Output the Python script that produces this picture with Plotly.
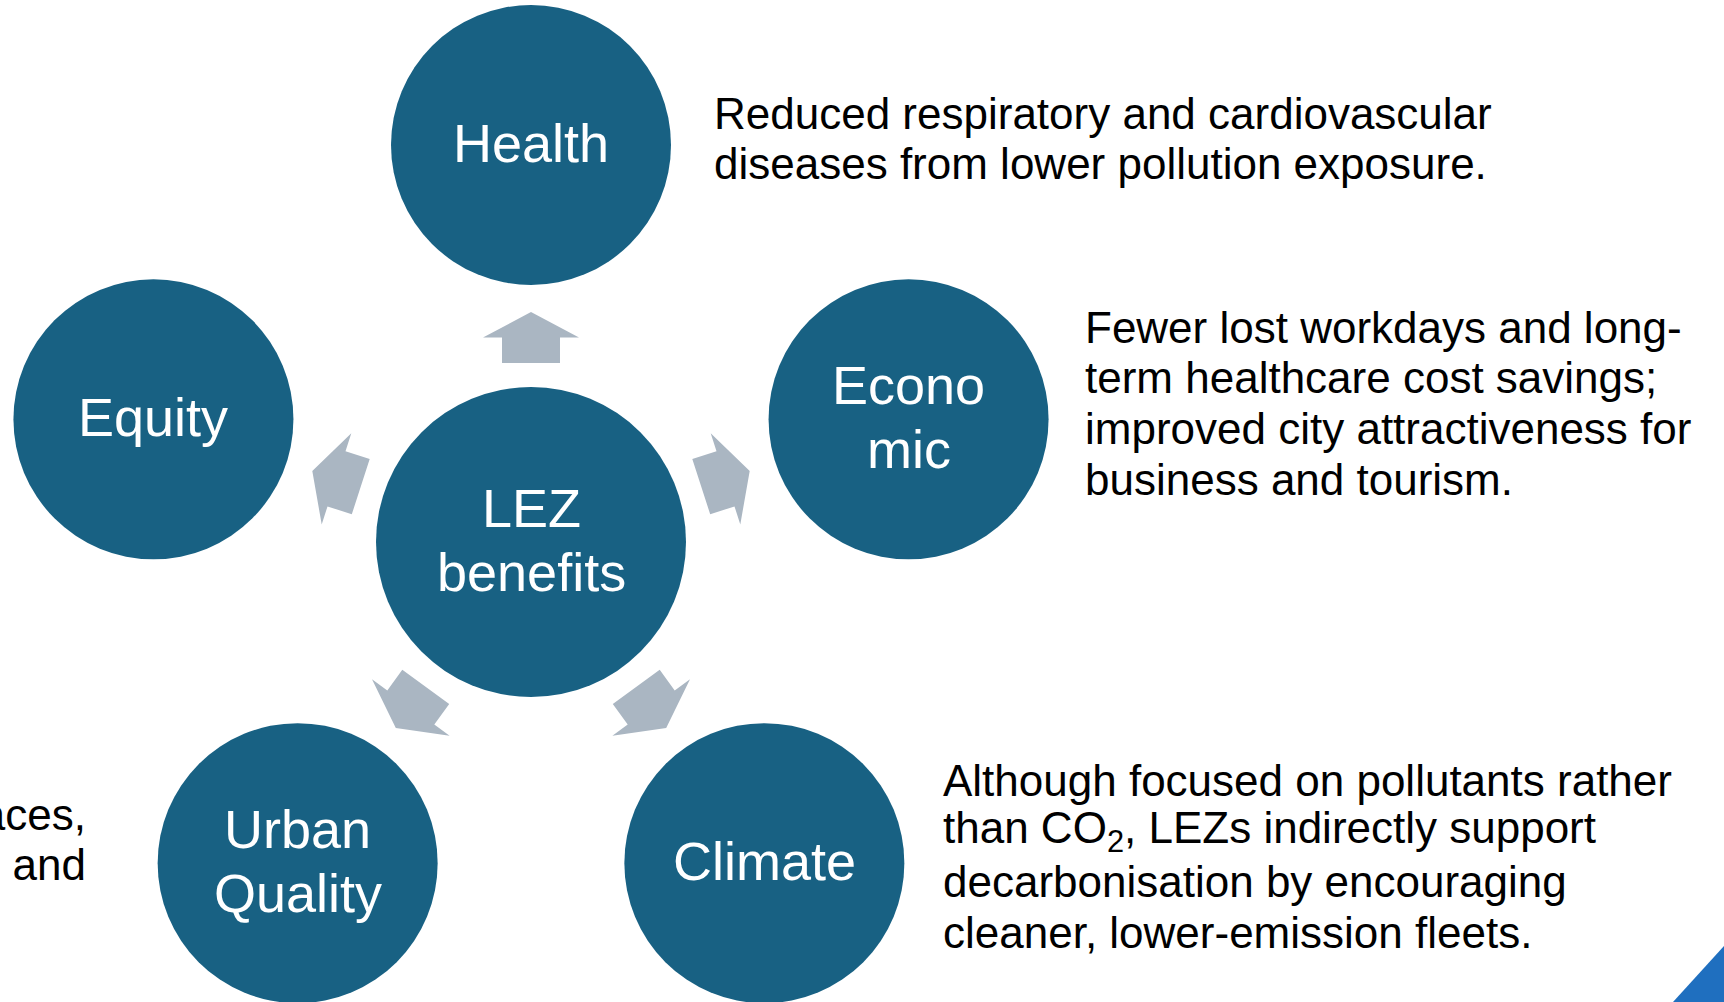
import numpy as np
import plotly.graph_objects as go

W, H = 1724, 1002

# ---- data ----
center_label = ["LEZ", "benefits"]
node_labels = [["Health"], ["Econo", "mic"], ["Climate"], ["Urban", "Quality"], ["Equity"]]
node_angles = [90, 18, -54, -126, 162]

health_text = ["Reduced respiratory and cardiovascular",
               "diseases from lower pollution exposure."]
economic_text = ["Fewer lost workdays and long-",
                 "term healthcare cost savings;",
                 "improved city attractiveness for",
                 "business and tourism."]
climate_text = ["Although focused on pollutants rather",
                "than CO<sub>2</sub>, LEZs indirectly support",
                "decarbonisation by encouraging",
                "cleaner, lower-emission fleets."]
urban_text = ["More attractive public spaces,",
              "reduced noise and congestion, and"]

# ---- layout / style ----
CX, CY = 531, 542
R_ORBIT = 397
R_NODE = 140
R_CENTER = 155
CIRCLE = "#186183"
ARROW = "#AAB6C2"
FONT = "Arial, Liberation Sans, sans-serif"
TXT = 44
LBL = 54
LH_TXT = 50.7
LH_LBL = 64

fig = go.Figure()
shapes = []
ann = []


def add_label(lines, x, y):
    n = len(lines)
    for i, t in enumerate(lines):
        yy = y - 2 + (i - (n - 1) / 2) * LH_LBL
        ann.append(dict(x=x, y=yy, text=t, showarrow=False, xanchor="center", yanchor="middle",
                        font=dict(family=FONT, size=LBL, color="white")))


def add_text(lines, x, y0, anchor="left"):
    for i, t in enumerate(lines):
        ann.append(dict(x=x, y=y0 + i * LH_TXT, text=t, showarrow=False, xanchor=anchor, yanchor="middle",
                        font=dict(family=FONT, size=TXT, color="black")))


# center circle
shapes.append(dict(type="circle", x0=CX - R_CENTER, x1=CX + R_CENTER, y0=CY - R_CENTER, y1=CY + R_CENTER,
                   fillcolor=CIRCLE, line=dict(width=0), layer="below"))
add_label(center_label, CX, CY)

arrow_local = [(179, -29), (204.5, -29), (204.5, -48), (230, 0), (204.5, 48), (204.5, 29), (179, 29)]

for lbl, ang in zip(node_labels, node_angles):
    th = np.radians(ang)
    d = np.array([np.cos(th), -np.sin(th)])
    p = np.array([np.sin(th), np.cos(th)])
    nx, ny = CX + R_ORBIT * d[0], CY + R_ORBIT * d[1]
    shapes.append(dict(type="circle", x0=nx - R_NODE, x1=nx + R_NODE, y0=ny - R_NODE, y1=ny + R_NODE,
                       fillcolor=CIRCLE, line=dict(width=0), layer="below"))
    add_label(lbl, nx, ny)
    pts = [(CX + u * d[0] + v * p[0], CY + u * d[1] + v * p[1]) for u, v in arrow_local]
    path = "M " + " L ".join(f"{x:.1f} {y:.1f}" for x, y in pts) + " Z"
    shapes.append(dict(type="path", path=path, fillcolor=ARROW, line=dict(width=0), layer="below"))

add_text(health_text, 712, 113)
add_text(economic_text, 1083, 327)
add_text(climate_text, 941, 780)
add_text(urban_text, 88, 814, anchor="right")

# corner decoration
shapes.append(dict(type="path", path="M 1673 1002 L 1724 946 L 1724 1002 Z",
                   fillcolor="#1F6FBF", line=dict(width=0), layer="below"))

fig.update_layout(
    width=W, height=H, margin=dict(l=0, r=0, t=0, b=0),
    paper_bgcolor="white", plot_bgcolor="white",
    xaxis=dict(range=[0, W], visible=False, fixedrange=True),
    yaxis=dict(range=[H, 0], visible=False, fixedrange=True),
    shapes=shapes, annotations=ann, showlegend=False,
)
fig.write_html("out.html", config={"displayModeBar": False},
               post_script="document.body.style.margin='0';document.body.style.overflow='hidden';")
